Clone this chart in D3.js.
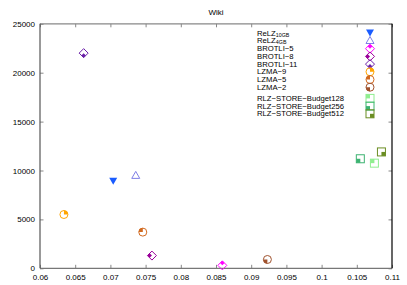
<!DOCTYPE html>
<html>
<head>
<meta charset="utf-8">
<script src="https://cdn.jsdelivr.net/npm/d3@7"></script>
<style>
  body { margin: 0; background: #fff; }
  text { font-family: "Liberation Sans", Arial, sans-serif; }
</style>
</head>
<body>
<div id="chart"></div>
<script>
// data
const seriesNames = ["ReLZ", "ReLZ", "BROTLI\u22125", "BROTLI\u22128", "BROTLI\u221211",
  "LZMA\u22129", "LZMA\u22125", "LZMA\u22122",
  "RLZ\u2212STORE\u2212Budget128", "RLZ\u2212STORE\u2212Budget256", "RLZ\u2212STORE\u2212Budget512"];
const seriesSubs = ["10GB", "4GB", "", "", "", "", "", "", "", "", ""];
const xValues = [0.0704, 0.0736, 0.0859, 0.0759, 0.0662, 0.0634, 0.0746, 0.0923, 0.1075, 0.1055, 0.1085];
const yValues = [8900, 9500, 300, 1300, 22000, 5500, 3700, 900, 10750, 11200, 11900];
const xTicks = [0.06, 0.065, 0.07, 0.075, 0.08, 0.085, 0.09, 0.095, 0.1, 0.105, 0.11];
const yTicks = [0, 5000, 10000, 15000, 20000, 25000];

// marker styles
const colors = ["#1a5cff", "#7f7fe6", "#ff00ff", "#9a009a", "#6a1fa8",
  "#ffa500", "#d2691e", "#a0522d", "#90ee90", "#3cb371", "#6b8e23"];
const shapes = ["triDown", "triUp", "dia-t", "dia-l", "dia-b", "circ-tr", "circ-tl", "circ-bl", "sq-tl", "sq-bl", "sq-br"];

const W = 407, H = 285;
const x = d3.scaleLinear().domain([0.06, 0.11]).range([40, 392]);
const y = d3.scaleLinear().domain([0, 25000]).range([268.3, 23.8]);

const svg = d3.select("#chart").append("svg")
  .attr("width", W).attr("height", H);

// title
svg.append("text")
  .attr("x", 216).attr("y", 15)
  .attr("text-anchor", "middle")
  .attr("font-size", 8)
  .text("Wiki");

// axes (ticks inward, gnuplot style)
const xAxis = svg.append("g")
  .attr("transform", `translate(0,${y(0)})`)
  .call(d3.axisBottom(x).tickValues(xTicks).tickSizeInner(-3.5).tickSizeOuter(0)
    .tickPadding(6).tickFormat(d => String(+d.toFixed(3))));
const xTop = svg.append("g")
  .attr("transform", `translate(0,${y(25000)})`)
  .call(d3.axisTop(x).tickValues(xTicks).tickSizeInner(-3.5).tickSizeOuter(0).tickFormat(""));
const yAxis = svg.append("g")
  .attr("transform", `translate(${x(0.06)},0)`)
  .call(d3.axisLeft(y).tickValues(yTicks).tickSizeInner(-3.5).tickSizeOuter(0)
    .tickPadding(5).tickFormat(d3.format("d")));
const yRight = svg.append("g")
  .attr("transform", `translate(${x(0.11)},0)`)
  .call(d3.axisRight(y).tickValues(yTicks).tickSizeInner(-3.5).tickSizeOuter(0).tickFormat(""));

[xAxis, xTop, yAxis, yRight].forEach(g => {
  g.select(".domain").remove();
  g.selectAll(".tick line").attr("stroke", "#888");
  g.selectAll(".tick text").attr("font-size", 8).attr("fill", "#000")
    .attr("font-family", "Liberation Sans, Arial, sans-serif");
});

// frame
svg.append("line").attr("x1", x(0.06)).attr("x2", x(0.11)).attr("y1", y(25000)).attr("y2", y(25000))
  .attr("stroke", "#888").attr("stroke-width", 1.2);
svg.append("line").attr("x1", x(0.06)).attr("x2", x(0.11)).attr("y1", y(0)).attr("y2", y(0))
  .attr("stroke", "#777").attr("stroke-width", 1.2);
svg.append("line").attr("x1", x(0.06)).attr("x2", x(0.06)).attr("y1", y(0)).attr("y2", y(25000))
  .attr("stroke", "#555").attr("stroke-width", 1.2);
svg.append("line").attr("x1", x(0.11)).attr("x2", x(0.11)).attr("y1", y(0)).attr("y2", y(25000))
  .attr("stroke", "#000").attr("stroke-width", 1.2);

function drawMarker(g, shape, color) {
  const [kind, q] = shape.split("-");
  if (kind === "triDown") {
    g.append("path").attr("d", "M-4,-3.5L4,-3.5L0,3.5Z").attr("fill", color);
  } else if (kind === "triUp") {
    g.append("path").attr("d", "M0,-4L4,3L-4,3Z").attr("fill", "none")
      .attr("stroke", color).attr("stroke-width", 1);
  } else if (kind === "dia") {
    const h = 4.5, m = h / 2;
    g.append("path").attr("d", `M0,${-h}L${h},0L0,${h}L${-h},0Z`).attr("fill", "none")
      .attr("stroke", color).attr("stroke-width", 1);
    const quad = {
      t: `M0,${-h}L${m},${-m}L0,0L${-m},${-m}Z`,
      l: `M${-h},0L${-m},${-m}L0,0L${-m},${m}Z`,
      b: `M0,${h}L${m},${m}L0,0L${-m},${m}Z`
    };
    g.append("path").attr("d", quad[q]).attr("fill", color);
  } else if (kind === "circ") {
    const r = 4;
    g.append("circle").attr("r", r).attr("fill", "none")
      .attr("stroke", color).attr("stroke-width", 1);
    const ang = { tr: [0, Math.PI / 2], tl: [-Math.PI / 2, 0], bl: [Math.PI, 1.5 * Math.PI] };
    g.append("path").attr("d", d3.arc()({ innerRadius: 0, outerRadius: r, startAngle: ang[q][0], endAngle: ang[q][1] }))
      .attr("fill", color);
  } else if (kind === "sq") {
    const s = 4;
    g.append("rect").attr("x", -s).attr("y", -s).attr("width", 2 * s).attr("height", 2 * s)
      .attr("fill", "none").attr("stroke", color).attr("stroke-width", 1);
    const pos = { tl: [-s, -s], bl: [-s, 0], br: [0, 0] };
    g.append("rect").attr("x", pos[q][0]).attr("y", pos[q][1]).attr("width", s).attr("height", s)
      .attr("fill", color);
  }
}

// points
seriesNames.forEach((name, i) => {
  const g = svg.append("g").attr("transform", `translate(${x(xValues[i])},${y(yValues[i])})`);
  drawMarker(g, shapes[i], colors[i]);
});

// legend (subscript rows sit a touch higher, gap before the RLZ-STORE rows)
const rowY = i => i < 2 ? 33 + i * 7.5 : 48.7 + (i - 2) * 7.7 + (i >= 8 ? 3.5 : 0);
seriesNames.forEach((name, i) => {
  const t = svg.append("text")
    .attr("x", 257).attr("y", rowY(i) + 2.6)
    .attr("font-size", 7.7);
  t.append("tspan").text(name);
  if (seriesSubs[i]) {
    t.append("tspan").attr("dy", 1.2).attr("font-size", 5.3).text(seriesSubs[i]);
  }
  const g = svg.append("g").attr("transform", `translate(370,${rowY(i)})`);
  drawMarker(g, shapes[i], colors[i]);
});
</script>
</body>
</html>
